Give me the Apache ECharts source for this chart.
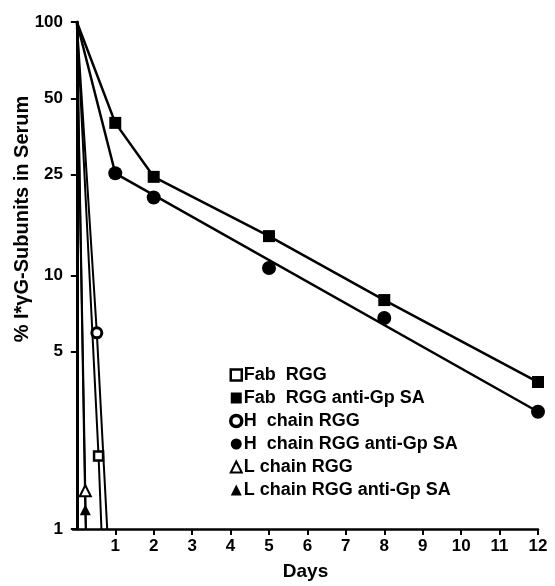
<!DOCTYPE html>
<html>
<head>
<meta charset="utf-8">
<script src="https://cdn.jsdelivr.net/npm/echarts@6/dist/echarts.min.js"></script>
<style>
  html, body { margin: 0; padding: 0; background: #fff; }
  #chart { width: 555px; height: 586px; }
</style>
</head>
<body>
<div id="chart"></div>
<script>
// tick labels
const dayTicks = [1, 2, 3, 4, 5, 6, 7, 8, 9, 10, 11, 12];
const pctTicks = [1, 5, 10, 25, 50, 100];

// Fab RGG anti-Gp SA (filled squares, line through points)
const fabAntiDays = [1, 2, 5, 8, 12];
const fabAntiPct = [40, 24.5, 14.3, 8.0, 3.8];
const fabAntiLineDays = [0, 1, 2, 5, 8, 12, 12.45];
const fabAntiLinePct = [100, 40, 24.5, 14.3, 8.0, 3.8, 3.37];

// H chain RGG anti-Gp SA (filled circles, straight line 1 -> 12)
const hAntiDays = [1, 2, 5, 8, 12];
const hAntiPct = [25.3, 20.3, 10.7, 6.8, 2.9];
const hAntiLineDays = [0, 1, 12, 12.45];
const hAntiLinePct = [100, 25.3, 2.9, 2.59];

// fast clearing fragments
const hRggDays = [0.52];
const hRggPct = [5.94];
const hRggLineDays = [0, 0.52, 0.79];
const hRggLinePct = [100, 5.94, 1];

const fabRggDays = [0.565];
const fabRggPct = [1.94];
const fabRggLineDays = [0, 0.565, 0.64];
const fabRggLinePct = [100, 1.94, 1];

const lRggDays = [0.22];
const lRggPct = [1.415];
const lRggLineDays = [0, 0.22, 0.235];
const lRggLinePct = [100, 1.415, 1];

const lAntiDays = [0.22];
const lAntiPct = [1.19];
const lAntiLineDays = [0, 0.22, 0.235];
const lAntiLinePct = [100, 1.19, 1];

const zip = (xs, ys) => xs.map((x, i) => [x, ys[i]]);
const font = 'Liberation Sans';
const hollow = (w) => ({ color: '#fff', borderColor: '#000', borderWidth: w, opacity: 1 });
const solid = { color: '#000', borderWidth: 0, opacity: 1 };

function lineSeries(xs, ys, width) {
    return {
        type: 'line', data: zip(xs, ys), showSymbol: false, clip: false,
        lineStyle: { color: '#000', width: width }, silent: true, z: 2
    };
}
function markSeries(name, xs, ys, symbol, size, style) {
    return { name: name, type: 'scatter', data: zip(xs, ys), symbol: symbol, symbolSize: size, itemStyle: style, z: 5 };
}

const myChart = echarts.init(document.getElementById('chart'));
myChart.setOption({
    animation: false,
    grid: { left: 73, right: 17, top: 22, bottom: 56 },
    xAxis: {
        type: 'value', min: -0.1, max: 12,
        name: 'Days', nameLocation: 'middle', nameGap: 33,
        nameTextStyle: { fontFamily: font, fontWeight: 'bold', fontSize: 19, color: '#000' },
        axisLine: { lineStyle: { color: '#000', width: 2.5 } },
        axisTick: { customValues: dayTicks, length: 6, lineStyle: { color: '#000', width: 2 } },
        axisLabel: { customValues: dayTicks, margin: 9, fontFamily: font, fontWeight: 'bold', fontSize: 17, color: '#000' },
        splitLine: { show: false }
    },
    yAxis: {
        type: 'log', logBase: 10, min: 1, max: 100,
        axisLine: { show: true, lineStyle: { color: '#000', width: 3 } },
        axisTick: { show: true, customValues: pctTicks, length: 6, lineStyle: { color: '#000', width: 2 } },
        axisLabel: { customValues: pctTicks, margin: 10, fontFamily: font, fontWeight: 'bold', fontSize: 17, color: '#000' },
        splitLine: { show: false }
    },
    graphic: [{
        type: 'text', x: 22, y: 219, rotation: Math.PI / 2,
        style: {
            text: '% I*γG-Subunits in Serum', fontFamily: font, fontWeight: 'bold', fontSize: 20,
            fill: '#000', align: 'center', verticalAlign: 'middle'
        }
    }],
    legend: {
        orient: 'vertical', left: 224, top: 360, itemWidth: 11, itemHeight: 11, itemGap: 3,
        textStyle: { fontFamily: font, fontWeight: 'bold', fontSize: 18, lineHeight: 20, color: '#000', padding: [0, 0, 0, -3] },
        data: [
            { name: 'Fab  RGG', icon: 'rect', itemStyle: hollow(2.5) },
            { name: 'Fab  RGG anti-Gp SA', icon: 'rect', itemStyle: solid },
            { name: 'H  chain RGG', icon: 'circle', itemStyle: hollow(3.5) },
            { name: 'H  chain RGG anti-Gp SA', icon: 'circle', itemStyle: solid },
            { name: 'L chain RGG', icon: 'triangle', itemStyle: hollow(2) },
            { name: 'L chain RGG anti-Gp SA', icon: 'triangle', itemStyle: solid }
        ]
    },
    series: [
        lineSeries(fabAntiLineDays, fabAntiLinePct, 2.5),
        lineSeries(hAntiLineDays, hAntiLinePct, 2.5),
        lineSeries(hRggLineDays, hRggLinePct, 2),
        lineSeries(fabRggLineDays, fabRggLinePct, 2),
        lineSeries(lRggLineDays, lRggLinePct, 2),
        lineSeries(lAntiLineDays, lAntiLinePct, 2),
        markSeries('Fab  RGG', fabRggDays, fabRggPct, 'rect', 9, hollow(2.5)),
        markSeries('Fab  RGG anti-Gp SA', fabAntiDays, fabAntiPct, 'rect', 12, solid),
        markSeries('H  chain RGG', hRggDays, hRggPct, 'circle', 10, hollow(3)),
        markSeries('H  chain RGG anti-Gp SA', hAntiDays, hAntiPct, 'circle', 14, solid),
        markSeries('L chain RGG', lRggDays, lRggPct, 'triangle', 11, hollow(2)),
        markSeries('L chain RGG anti-Gp SA', lAntiDays, lAntiPct, 'triangle', 11, solid)
    ]
});
window.addEventListener('resize', function () {
    myChart.resize();
});
</script>
</body>
</html>
